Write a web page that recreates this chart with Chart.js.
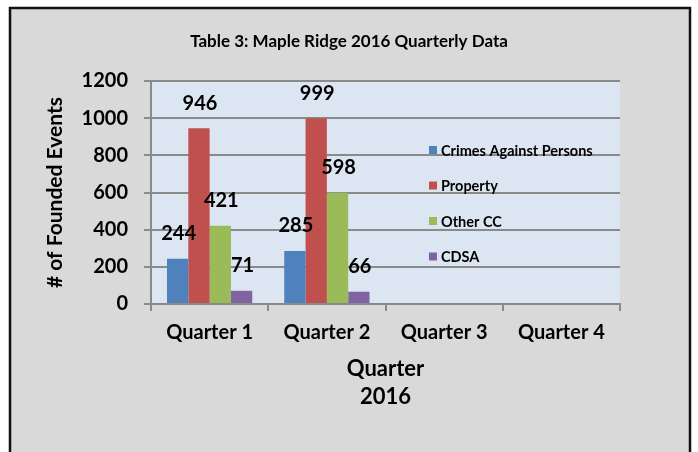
<!DOCTYPE html>
<html>
<head>
<meta charset="utf-8">
<script src="https://cdn.jsdelivr.net/npm/chart.js@4/dist/chart.umd.min.js"></script>
<style>
  body { margin: 0; background: #ffffff; }
  canvas { display: block; }
</style>
</head>
<body>
<canvas id="chart" width="698" height="452"></canvas>
<script>
const quarters = ["Quarter 1", "Quarter 2", "Quarter 3", "Quarter 4"];
const crimesAgainstPersons = [244, 285, null, null];
const property = [946, 999, null, null];
const otherCC = [421, 598, null, null];
const cdsa = [71, 66, null, null];
const yTicks = [0, 200, 400, 600, 800, 1000, 1200];

const FONT = "Lato, 'Open Sans', sans-serif";
const GRID = "#8a8a8a";

// grey card with black frame + light blue plot area
const background = {
  id: "background",
  beforeDraw(chart) {
    const { ctx, chartArea: a } = chart;
    ctx.save();
    ctx.fillStyle = "#ffffff";
    ctx.fillRect(0, 0, chart.width, chart.height);
    ctx.fillStyle = "#d9d9d9";
    ctx.fillRect(10, 8, 680, 460);
    ctx.strokeStyle = "#111111";
    ctx.lineWidth = 2.5;
    ctx.strokeRect(10, 8, 680, 460);
    ctx.fillStyle = "#dce6f2";
    ctx.fillRect(a.left, a.top, a.right - a.left, a.bottom - a.top);
    ctx.restore();
  },
};

// value labels above each bar
const barValues = {
  id: "barValues",
  afterDatasetsDraw(chart) {
    const { ctx } = chart;
    ctx.save();
    ctx.font = "bold 20px " + FONT;
    ctx.fillStyle = "#000000";
    ctx.textAlign = "center";
    ctx.textBaseline = "middle";
    chart.data.datasets.forEach((ds, i) => {
      chart.getDatasetMeta(i).data.forEach((bar, j) => {
        const v = ds.data[j];
        if (v == null) return;
        ctx.fillText(String(v), bar.x + 1, bar.y - 25);
      });
    });
    ctx.restore();
  },
};

// legend sitting inside the plot, as in the original
const insideLegend = {
  id: "insideLegend",
  afterDraw(chart) {
    const { ctx } = chart;
    ctx.save();
    ctx.font = "bold 14.5px " + FONT;
    ctx.textBaseline = "middle";
    ctx.textAlign = "left";
    chart.data.datasets.forEach((ds, i) => {
      const y = 150 + i * 35.5;
      ctx.fillStyle = ds.backgroundColor;
      ctx.fillRect(429, y - 4, 8, 8);
      ctx.fillStyle = "#000000";
      ctx.fillText(ds.label, 441, y + 1);
    });
    ctx.restore();
  },
};

new Chart(document.getElementById("chart"), {
  type: "bar",
  data: {
    labels: quarters,
    datasets: [
      { label: "Crimes Against Persons", data: crimesAgainstPersons, backgroundColor: "#4f81bd" },
      { label: "Property", data: property, backgroundColor: "#c0504d" },
      { label: "Other CC", data: otherCC, backgroundColor: "#9bbb59" },
      { label: "CDSA", data: cdsa, backgroundColor: "#8064a2" },
    ],
  },
  options: {
    responsive: false,
    animation: false,
    devicePixelRatio: 1,
    layout: { padding: { left: 0, right: 0, top: 0, bottom: 41 } },
    datasets: { bar: { barPercentage: 1, categoryPercentage: 0.727 } },
    plugins: {
      legend: { display: false },
      tooltip: { enabled: false },
      title: {
        display: true,
        text: "Table 3: Maple Ridge 2016 Quarterly Data",
        color: "#000000",
        font: { family: FONT, size: 17, weight: "bold" },
        padding: { top: 31.8, bottom: 28.8 },
      },
    },
    scales: {
      x: {
        grid: { offset: true, drawOnChartArea: false, color: GRID, lineWidth: 2, tickLength: 7 },
        border: { color: GRID, width: 2 },
        ticks: { color: "#000000", padding: 10, maxRotation: 0, font: { family: FONT, size: 20, weight: "bold" } },
        title: {
          display: true,
          text: ["Quarter", "2016"],
          color: "#000000",
          font: { family: FONT, size: 22, weight: "bold", lineHeight: 1.27 },
          padding: { top: 0, bottom: 0 },
        },
        afterFit: (s) => { s.height = 107; },
      },
      y: {
        min: 0,
        max: 1200,
        afterBuildTicks: (s) => { s.ticks = yTicks.map((v) => ({ value: v })); },
        grid: { color: GRID, lineWidth: 2, tickLength: 7 },
        border: { color: GRID, width: 2 },
        ticks: {
          color: "#000000",
          padding: 16,
          font: { family: FONT, size: 20, weight: "bold" },
          callback: (v) => String(v),
        },
        title: {
          display: true,
          text: "# of Founded Events",
          color: "#000000",
          font: { family: FONT, size: 21, weight: "bold" },
          padding: { top: 43, bottom: 0 },
        },
        afterFit: (s) => { s.width = 151; },
      },
      // empty right-hand box so the plot stops where the original does
      spacer: {
        type: "linear",
        position: "right",
        display: true,
        grid: { display: false, drawTicks: false },
        border: { display: false },
        ticks: { display: false },
        afterFit: (s) => { s.width = 78; },
      },
    },
  },
  plugins: [background, barValues, insideLegend],
});
</script>
</body>
</html>
